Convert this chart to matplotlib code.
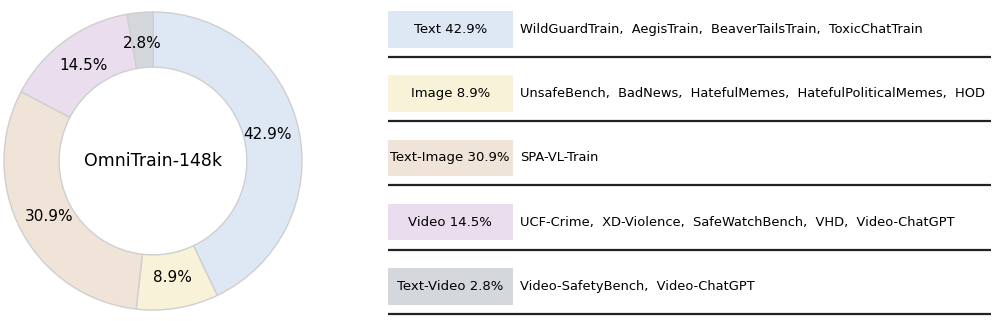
import matplotlib
matplotlib.use("Agg")
import matplotlib.pyplot as plt
from matplotlib.patches import Rectangle

categories = ["Text", "Image", "Text-Image", "Video", "Text-Video"]
shares = [42.9, 8.9, 30.9, 14.5, 2.8]
colors = ["#dde8f4", "#f8f3d8", "#f0e3d8", "#e9ddee", "#d4d7db"]
datasets = [
    "WildGuardTrain,  AegisTrain,  BeaverTailsTrain,  ToxicChatTrain",
    "UnsafeBench,  BadNews,  HatefulMemes,  HatefulPoliticalMemes,  HOD",
    "SPA-VL-Train",
    "UCF-Crime,  XD-Violence,  SafeWatchBench,  VHD,  Video-ChatGPT",
    "Video-SafetyBench,  Video-ChatGPT",
]
center_title = "OmniTrain-148k"

W, H = 996, 321
fig = plt.figure(figsize=(W / 100, H / 100), dpi=100)
plt.rcParams["font.family"] = ["DejaVu Sans"]

# Donut
R_pix = 149.0
cx, cy = 153.0, H - 161.0
half = 153.0
ax = fig.add_axes([(cx - half) / W, (cy - half) / H, 2 * half / W, 2 * half / H])
wedges, texts, autotexts = ax.pie(
    shares, colors=colors, startangle=90, counterclock=False,
    autopct="%.1f%%", pctdistance=0.79, radius=1.0,
    wedgeprops=dict(width=0.37, edgecolor="#cfcfcf", linewidth=1.0),
    textprops=dict(fontsize=11, color="black"),
)
lim = half / R_pix
ax.set_xlim(-lim, lim)
ax.set_ylim(-lim, lim)
ax.set_aspect("equal")
ax.axis("off")
ax.text(0, 0, center_title, ha="center", va="center", fontsize=12.5, color="black")

# Right panel: table of categories
axr = fig.add_axes([0, 0, 1, 1])
axr.set_xlim(0, W)
axr.set_ylim(H, 0)
axr.axis("off")
row_step = 64.3
box_top0, box_h = 11.0, 36.5
box_x0, box_x1 = 388.0, 512.5
line_y0 = 56.7
for i, (cat, val, col, ds) in enumerate(zip(categories, shares, colors, datasets)):
    top = box_top0 + row_step * i
    axr.add_patch(Rectangle((box_x0, top), box_x1 - box_x0, box_h, facecolor=col, edgecolor="none"))
    axr.text((box_x0 + box_x1) / 2, top + box_h / 2, f"{cat} {val}%", ha="center", va="center",
             fontsize=9.5, color="black")
    axr.text(520, top + box_h / 2, ds, ha="left", va="center", fontsize=9.35, color="black")
    ly = line_y0 + row_step * i
    axr.plot([box_x0, 991], [ly, ly], color="#222222", linewidth=1.6, solid_capstyle="butt")

fig.savefig("out.png", dpi=100)
